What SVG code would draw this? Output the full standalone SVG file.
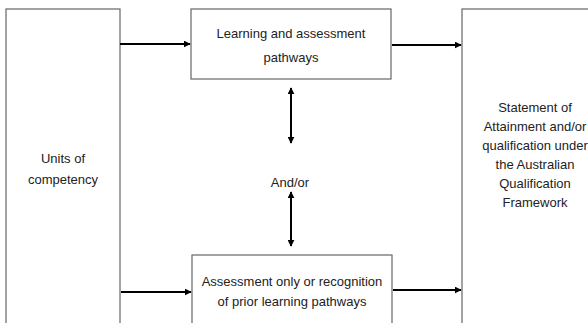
<svg xmlns="http://www.w3.org/2000/svg" width="588" height="323" viewBox="0 0 588 323">
<defs>
<style>
.box{fill:#fff;stroke:#666;stroke-width:1.2}
.t{font-family:"Liberation Sans",Arial,sans-serif;font-size:13px;fill:#222;text-anchor:middle}
.c{stroke:#000;stroke-width:2;fill:none}
</style>
<marker id="ah" viewBox="0 0 10 10" refX="9" refY="5" markerWidth="3.5" markerHeight="3.5" orient="auto-start-reverse" markerUnits="strokeWidth">
<path d="M0,0 L10,5 L0,10 z" fill="#000"/>
</marker>
</defs>
<rect width="588" height="323" fill="#fff"/>
<g id="units">
<rect class="box" x="6" y="9" width="114" height="330"/>
<text class="t" x="63" y="163">Units of</text>
<text class="t" x="63" y="184">competency</text>
</g>
<g id="learning">
<rect class="box" x="191" y="9" width="200" height="70"/>
<text class="t" x="291" y="38">Learning and assessment</text>
<text class="t" x="291" y="62">pathways</text>
</g>
<g id="assessment">
<rect class="box" x="192" y="255" width="200" height="90"/>
<text class="t" x="292" y="286">Assessment only or recognition</text>
<text class="t" x="292" y="306">of prior learning pathways</text>
</g>
<g id="statement">
<rect class="box" x="462" y="9" width="140" height="330"/>
<text class="t" x="535" y="112">Statement of</text>
<text class="t" x="535" y="131">Attainment and/or</text>
<text class="t" x="535" y="150">qualification under</text>
<text class="t" x="535" y="169">the Australian</text>
<text class="t" x="535" y="188">Qualification</text>
<text class="t" x="535" y="207">Framework</text>
</g>
<g id="andor">
<text class="t" x="290" y="187">And/or</text>
</g>
<g id="connectors">
<line class="c" x1="120" y1="44" x2="190" y2="44" marker-end="url(#ah)"/>
<line class="c" x1="121" y1="292" x2="191" y2="292" marker-end="url(#ah)"/>
<line class="c" x1="392" y1="45" x2="461" y2="45" marker-end="url(#ah)"/>
<line class="c" x1="393" y1="290" x2="461" y2="290" marker-end="url(#ah)"/>
<line class="c" x1="291" y1="88" x2="291" y2="143" marker-start="url(#ah)" marker-end="url(#ah)"/>
<line class="c" x1="291" y1="192" x2="291" y2="246" marker-start="url(#ah)" marker-end="url(#ah)"/>
</g>
</svg>
